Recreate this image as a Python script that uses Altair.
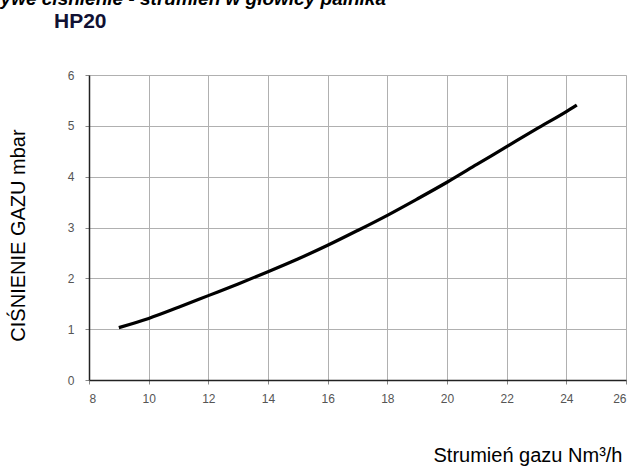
import altair as alt
import pandas as pd

# Burner head pressure vs gas flow, HP20
flow = [9.0, 10.0, 11.0, 12.0, 13.0, 14.0, 15.0, 16.0, 17.0, 18.0, 19.0, 20.0, 21.0, 22.0, 23.0, 24.0, 24.35]
pressure = [1.03, 1.21, 1.43, 1.66, 1.89, 2.13, 2.38, 2.65, 2.94, 3.24, 3.56, 3.89, 4.24, 4.59, 4.94, 5.28, 5.41]

x_ticks = [8, 10, 12, 14, 16, 18, 20, 22, 24, 26]
y_ticks = [0, 1, 2, 3, 4, 5, 6]

df = pd.DataFrame({"flow": flow, "pressure": pressure})

W, H = 537, 305
FONT = "Liberation Sans"

line = alt.Chart(df).mark_line(color="black", strokeWidth=3.2, interpolate="monotone").encode(
    x=alt.X(
        "flow:Q",
        scale=alt.Scale(domain=[8, 26], nice=False, zero=False),
        axis=alt.Axis(
            values=x_ticks,
            title="Strumień gazu Nm³/h",
            titleFont=FONT,
            titleFontSize=20,
            titleFontWeight="normal",
            titleColor="black",
            titleAlign="right",
            titleAnchor="end",
            titleBaseline="alphabetic",
            titleX=533,
            titleY=81,
            labelFont=FONT,
            labelFontSize=12,
            labelColor="#555",
            labelPadding=9,
            tickSize=4,
            tickColor="#888",
            domainColor="#222",
            domainWidth=1.5,
            gridColor="#b0b0b0",
        ),
    ),
    y=alt.Y(
        "pressure:Q",
        scale=alt.Scale(domain=[0, 6], nice=False),
        axis=alt.Axis(
            values=y_ticks,
            title="CIŚNIENIE GAZU mbar",
            titleFont=FONT,
            titleFontSize=20,
            titleFontWeight="normal",
            titleColor="black",
            titleX=-61,
            titleY=160,
            titleAlign="center",
            labelFont=FONT,
            labelFontSize=12,
            labelColor="#555",
            labelPadding=11,
            tickSize=4,
            tickColor="#888",
            domainColor="#222",
            domainWidth=1.5,
            gridColor="#b0b0b0",
        ),
    ),
)

main_title = alt.Chart(pd.DataFrame({"t": ["Krzywe ciśnienie - strumień w głowicy palnika"]})).mark_text(
    font=FONT, fontSize=19, fontWeight="bold", fontStyle="italic", align="right", baseline="alphabetic", color="black"
).encode(x=alt.value(297), y=alt.value(-70), text="t:N")

model = alt.Chart(pd.DataFrame({"t": ["HP20"]})).mark_text(
    font=FONT, fontSize=21, fontWeight="bold", align="left", baseline="alphabetic", color="#111133"
).encode(x=alt.value(-35), y=alt.value(-47), text="t:N")

chart = (
    alt.layer(line, main_title, model)
    .properties(
        width=W,
        height=H,
        autosize=alt.AutoSizeParams(type="none"),
        padding={"left": 89, "top": 75, "right": 6, "bottom": 86},
    )
    .configure_view(stroke="#333", strokeWidth=1.5)
    .configure(background="white")
)

chart.save("out.html", embed_options={"renderer": "svg", "actions": False})
